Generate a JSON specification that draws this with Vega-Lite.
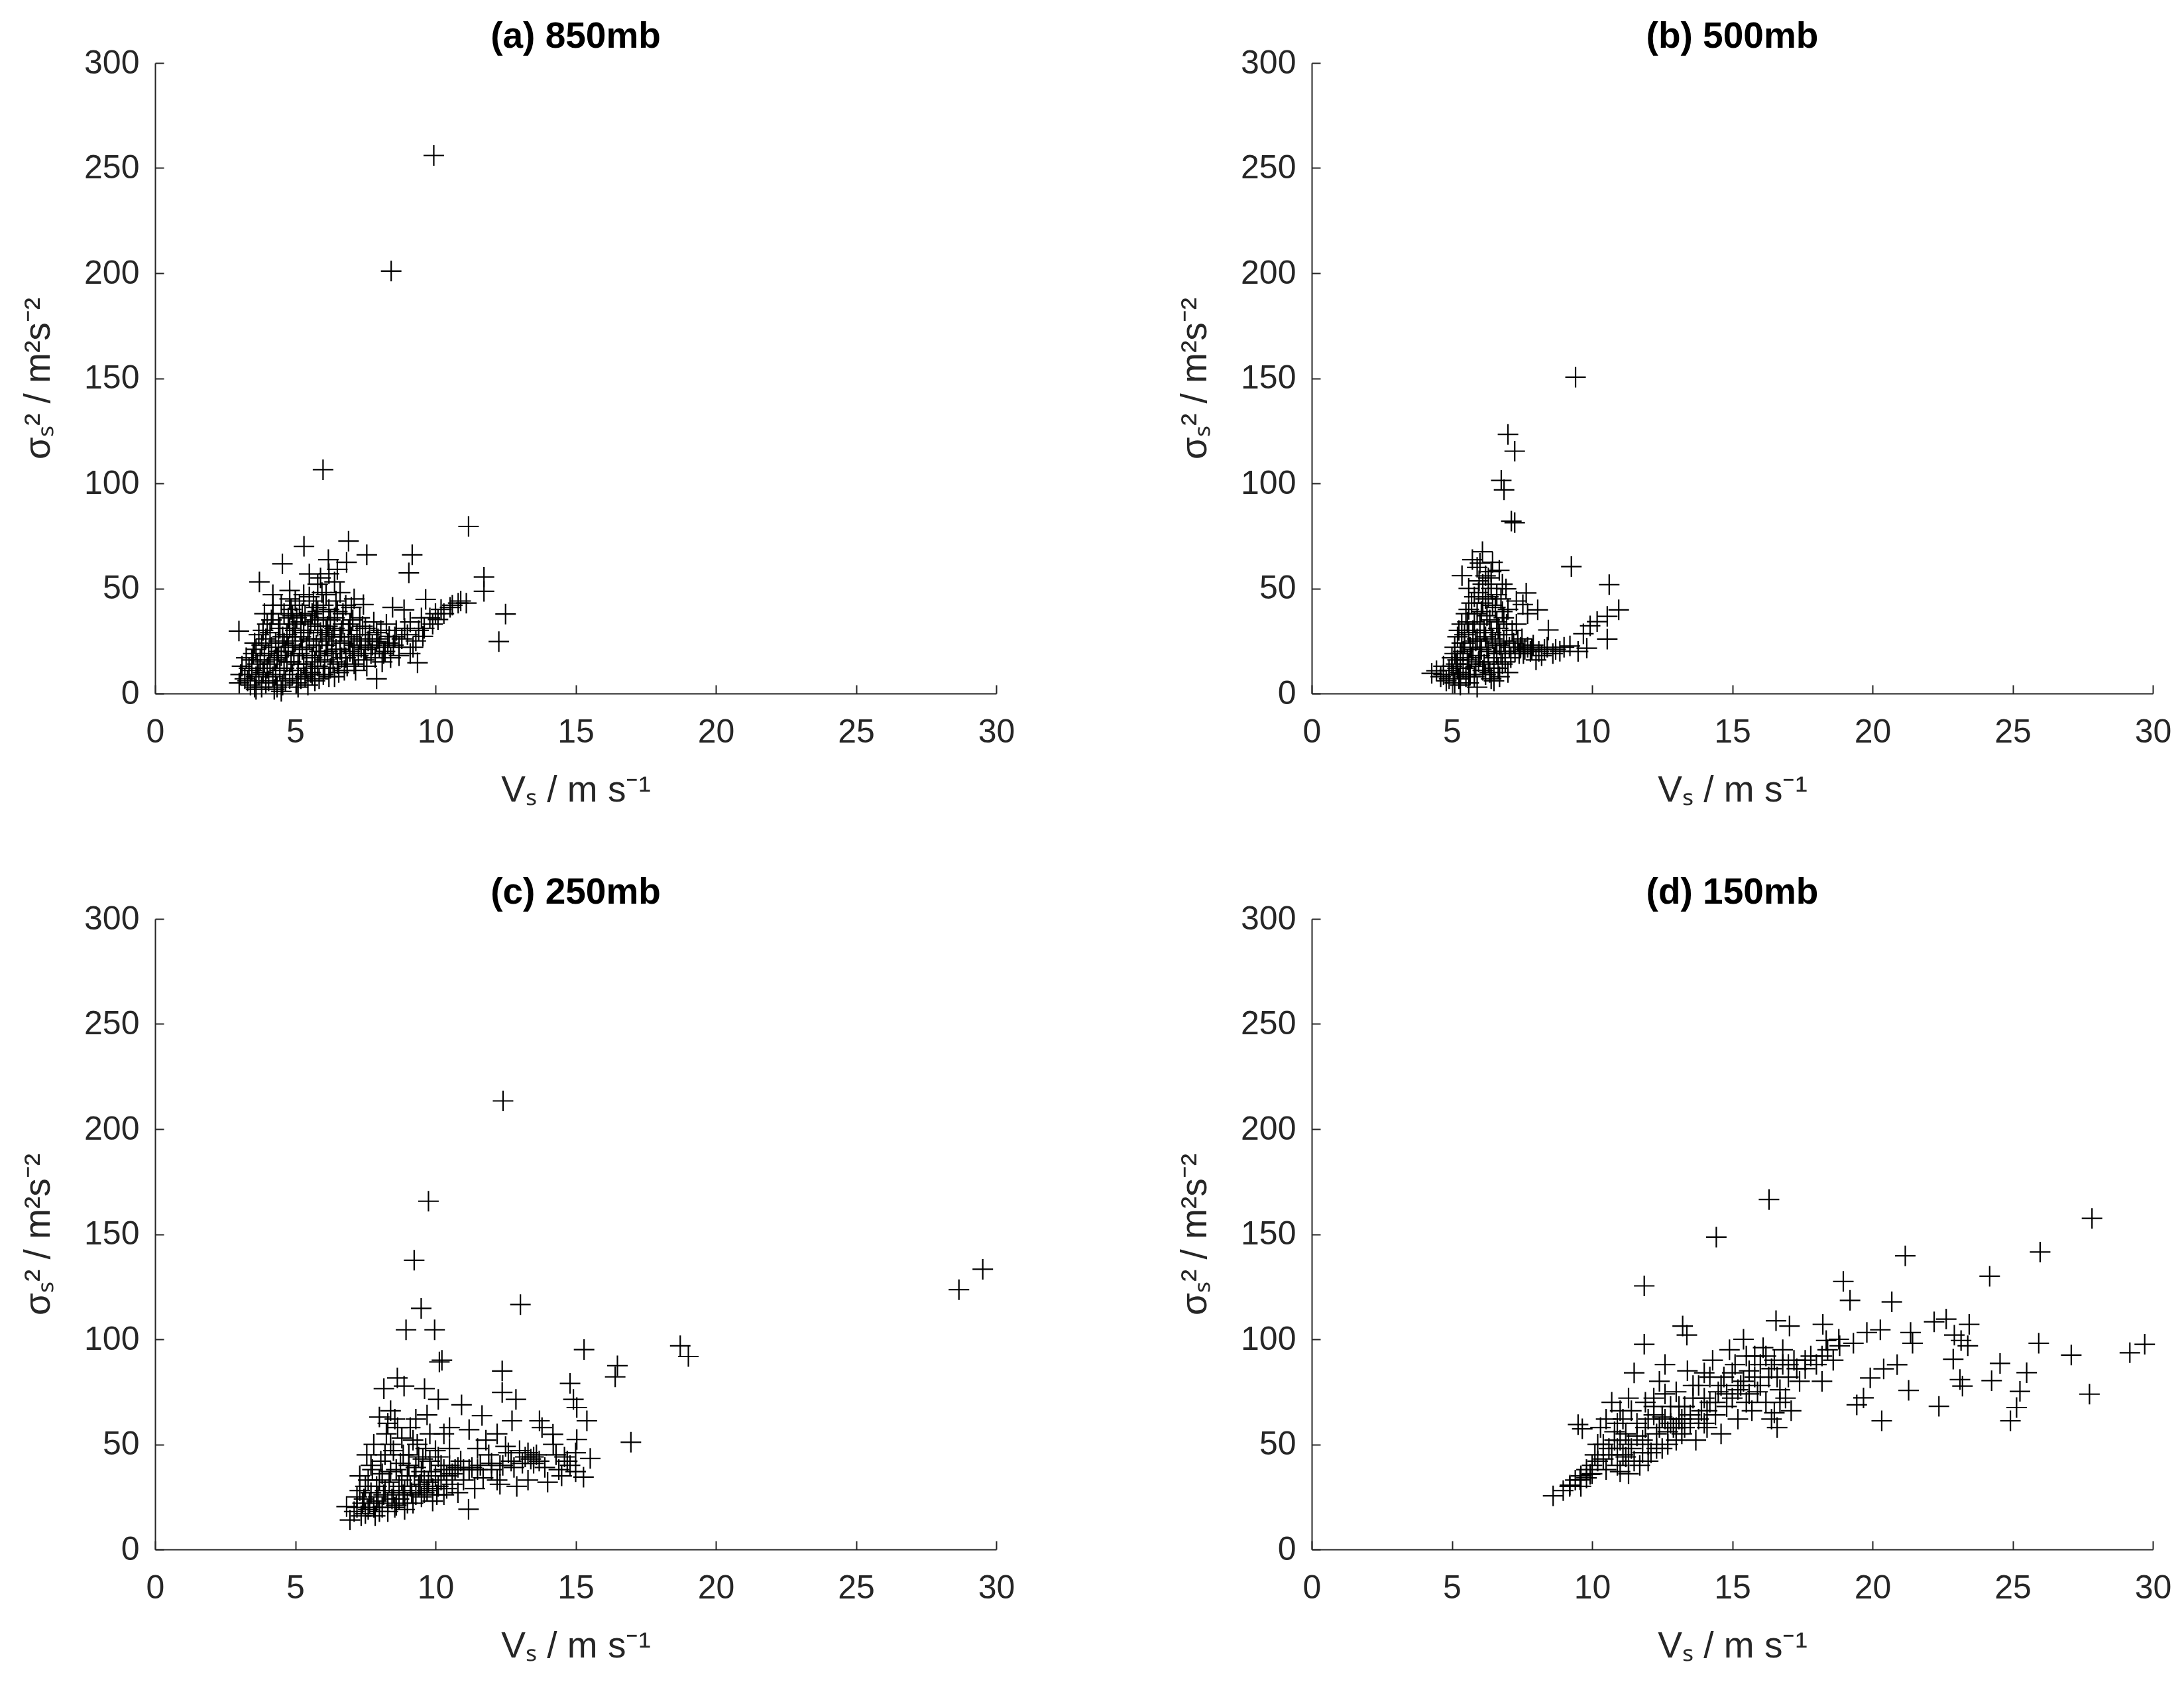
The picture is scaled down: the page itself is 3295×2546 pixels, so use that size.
{
"$schema": "https://vega.github.io/schema/vega-lite/v6.json",
"background": "white",
"padding": {"left": 30, "top": 28, "right": 5, "bottom": 5},
"bounds": "flush",
"spacing": {"row": 340, "column": 476},
"columns": 2,
"config": {
  "view": {"stroke": null},
  "axis": {"grid": false, "domainColor": "#262626", "domainWidth": 2, "tickColor": "#262626", "tickWidth": 2, "tickSize": -13,
    "labelFont": "Liberation Sans", "labelFontSize": 50, "labelColor": "#262626", "labelOverlap": false, "labelFlush": false,
    "titleFont": "Liberation Sans", "titleFontSize": 55, "titleFontWeight": "normal", "titleColor": "#262626"},
  "axisX": {"labelPadding": 46, "titleX": 634.5, "titleY": 162, "titleBaseline": "alphabetic", "titleAlign": "center"},
  "axisY": {"labelPadding": 37, "titleX": -160, "titleY": 475.5, "titleBaseline": "alphabetic", "titleAlign": "center", "titleAngle": -90},
  "title": {"font": "Liberation Sans", "fontSize": 55, "fontWeight": "bold", "color": "black", "frame": "group", "anchor": "middle", "baseline": "alphabetic", "offset": -14}
},
"datasets": {
"a": [
{"v":9.94,"s":256},{"v":8.42,"s":201},{"v":5.99,"s":106.5},{"v":11.18,"s":79.5},{"v":11.73,"s":55.4},{"v":11.73,"s":48.6},{"v":12.5,"s":37.8},{"v":12.26,"s":24.7},{"v":9.17,"s":66},{"v":9.05,"s":57.4},{"v":7.55,"s":66},{"v":6.9,"s":72.5},{"v":6.83,"s":62.4},{"v":5.31,"s":70},{"v":4.54,"s":61.7},{"v":3.72,"s":53.1},{"v":6.18,"s":63.7},{"v":5.5,"s":56.9},{"v":6.4,"s":53.1},{"v":2.99,"s":29.7},{"v":10.81,"s":43},{"v":10.52,"s":41},{"v":10.09,"s":35.2},{"v":9.65,"s":44.8},{"v":9.55,"s":27.2},{"v":9.36,"s":14.6},{"v":8.88,"s":39.8},{"v":8.47,"s":41},{"v":8.35,"s":27.2},{"v":7.9,"s":7},{"v":7.9,"s":24.7},{"v":7.43,"s":42.3},{"v":6.5,"s":59},{"v":6.2,"s":57},{"v":5.8,"s":52},{"v":4.2,"s":47},{"v":4.8,"s":49},{"v":7.1,"s":45},{"v":9.4,"s":30},{"v":9.2,"s":22},{"v":8.7,"s":18},{"v":8.2,"s":20},{"v":10.3,"s":38},{"v":9.9,"s":33},
{"v":3.0,"s":5},{"v":3.05,"s":9},{"v":3.1,"s":13},{"v":3.2,"s":7},{"v":3.25,"s":17},
{"v":3.4,"s":4},{"v":3.45,"s":11},{"v":3.5,"s":19},{"v":3.55,"s":24},{"v":3.6,"s":8},{"v":3.65,"s":14},{"v":3.7,"s":28},
{"v":3.8,"s":3},{"v":3.85,"s":10},{"v":3.9,"s":18},{"v":3.95,"s":26},{"v":4.0,"s":33},{"v":4.05,"s":6},{"v":4.1,"s":14},{"v":4.15,"s":22},{"v":4.2,"s":38},{"v":4.25,"s":2},
{"v":4.3,"s":9},{"v":4.35,"s":17},{"v":4.4,"s":25},{"v":4.45,"s":31},{"v":4.5,"s":42},{"v":4.55,"s":4},{"v":4.6,"s":12},{"v":4.65,"s":20},{"v":4.7,"s":28},{"v":4.75,"s":36},{"v":4.8,"s":7},
{"v":4.85,"s":15},{"v":4.9,"s":23},{"v":4.95,"s":33},{"v":5.0,"s":44},{"v":5.05,"s":5},{"v":5.1,"s":11},{"v":5.15,"s":19},{"v":5.2,"s":27},{"v":5.25,"s":38},{"v":5.3,"s":14},{"v":5.35,"s":8},
{"v":5.4,"s":22},{"v":5.45,"s":30},{"v":5.5,"s":46},{"v":5.55,"s":10},{"v":5.6,"s":17},{"v":5.65,"s":25},{"v":5.7,"s":35},{"v":5.75,"s":41},{"v":5.8,"s":13},{"v":5.85,"s":20},{"v":5.9,"s":29},
{"v":5.95,"s":48},{"v":6.0,"s":9},{"v":6.05,"s":16},{"v":6.1,"s":23},{"v":6.15,"s":32},{"v":6.2,"s":40},{"v":6.25,"s":12},{"v":6.3,"s":19},{"v":6.35,"s":27},{"v":6.4,"s":36},{"v":6.45,"s":44},
{"v":6.5,"s":14},{"v":6.6,"s":21},{"v":6.65,"s":30},{"v":6.7,"s":38},{"v":6.75,"s":11},{"v":6.8,"s":17},{"v":6.9,"s":25},{"v":6.95,"s":33},{"v":7.0,"s":41},{"v":7.05,"s":19},{"v":7.1,"s":14},
{"v":7.2,"s":28},{"v":7.3,"s":36},{"v":7.35,"s":22},{"v":7.45,"s":16},{"v":7.5,"s":31},{"v":7.6,"s":25},{"v":7.7,"s":19},{"v":7.8,"s":34},{"v":7.9,"s":29},{"v":8.0,"s":22},{"v":8.1,"s":15},
{"v":8.3,"s":24},{"v":8.5,"s":23},{"v":8.6,"s":30},{"v":8.8,"s":26},{"v":9.0,"s":28},{"v":9.1,"s":19},{"v":9.3,"s":25},{"v":9.6,"s":31},{"v":9.8,"s":36},{"v":10.0,"s":38},{"v":10.2,"s":40},{"v":10.6,"s":42},{"v":10.9,"s":44},{"v":11.1,"s":43},
{"v":4.6,"s":24},{"v":5.0,"s":30},{"v":5.2,"s":34},{"v":5.6,"s":38},{"v":6.0,"s":36},{"v":5.4,"s":18},{"v":4.9,"s":27},{"v":6.2,"s":28},{"v":5.8,"s":32},{"v":4.4,"s":20},{"v":3.9,"s":15},{"v":5.1,"s":3},{"v":5.7,"s":6},{"v":6.4,"s":8},{"v":4.5,"s":1},{"v":3.6,"s":2},
{"v":3.3,"s":6},{"v":3.35,"s":12},{"v":3.45,"s":16},{"v":3.55,"s":3},{"v":3.6,"s":21},{"v":3.7,"s":9},{"v":3.75,"s":16},{"v":3.8,"s":23},{"v":3.85,"s":30},{"v":3.95,"s":5},{"v":4.0,"s":12},{"v":4.05,"s":19},{"v":4.1,"s":29},{"v":4.15,"s":35},{"v":4.2,"s":8},{"v":4.25,"s":16},{"v":4.3,"s":24},{"v":4.35,"s":3},{"v":4.4,"s":33},{"v":4.45,"s":11},{"v":4.5,"s":18},{"v":4.55,"s":27},{"v":4.6,"s":38},{"v":4.65,"s":6},{"v":4.7,"s":15},{"v":4.75,"s":22},{"v":4.8,"s":31},{"v":4.85,"s":40},{"v":4.9,"s":9},{"v":4.95,"s":18},{"v":5.0,"s":25},{"v":5.05,"s":36},{"v":5.1,"s":14},{"v":5.15,"s":42},{"v":5.2,"s":7},{"v":5.25,"s":21},{"v":5.3,"s":29},{"v":5.35,"s":37},{"v":5.4,"s":12},{"v":5.45,"s":4},{"v":5.5,"s":26},{"v":5.55,"s":33},{"v":5.6,"s":9},{"v":5.65,"s":44},{"v":5.7,"s":15},{"v":5.75,"s":23},{"v":5.8,"s":39},{"v":5.85,"s":7},{"v":5.9,"s":18},{"v":5.95,"s":26},{"v":6.0,"s":42},{"v":6.05,"s":12},{"v":6.1,"s":30},{"v":6.15,"s":20},{"v":6.2,"s":8},{"v":6.25,"s":35},{"v":6.3,"s":25},{"v":6.35,"s":15},{"v":6.4,"s":31},{"v":6.45,"s":21},{"v":6.5,"s":39},{"v":6.55,"s":10},{"v":6.6,"s":27},{"v":6.65,"s":17},{"v":6.7,"s":33},{"v":6.75,"s":24},{"v":6.8,"s":42},{"v":6.85,"s":13},{"v":6.9,"s":30},{"v":6.95,"s":20},{"v":7.0,"s":27},{"v":7.05,"s":35},{"v":7.1,"s":23},{"v":7.15,"s":11},{"v":7.25,"s":18},{"v":7.3,"s":26},{"v":7.4,"s":32},{"v":7.5,"s":21},{"v":7.55,"s":13},{"v":7.65,"s":28},{"v":7.75,"s":23},{"v":7.85,"s":17},{"v":7.95,"s":26},{"v":8.05,"s":30},{"v":8.15,"s":19},{"v":8.25,"s":33},{"v":8.4,"s":17},{"v":8.55,"s":27},{"v":8.7,"s":22},{"v":8.9,"s":31},{"v":9.1,"s":34},{"v":9.5,"s":36},{"v":4.2,"s":42},{"v":4.8,"s":45},{"v":5.3,"s":47},{"v":6.6,"s":48},{"v":3.9,"s":38},{"v":5.9,"s":55},{"v":4.9,"s":37},{"v":6.1,"s":47}
],
"b": [
{"v":9.41,"s":150.5},{"v":7.0,"s":123.3},{"v":7.24,"s":115.3},{"v":6.76,"s":101.4},{"v":6.86,"s":96.9},{"v":7.12,"s":82},{"v":7.24,"s":81.3},{"v":9.26,"s":60.4},{"v":10.61,"s":51.8},{"v":10.95,"s":39.8},{"v":10.54,"s":36.7},{"v":10.18,"s":34.2},{"v":9.93,"s":32.2},{"v":9.69,"s":28.4},{"v":10.54,"s":25.9},{"v":9.81,"s":21.6},{"v":9.21,"s":22.6},{"v":8.85,"s":20.1},{"v":8.44,"s":30.2},{"v":8.06,"s":39.8},{"v":7.65,"s":47.8},{"v":7.53,"s":42.3},{"v":5.36,"s":56.1},{"v":6.09,"s":67.5},{"v":5.73,"s":63.7},{"v":6.45,"s":62.4},{"v":6.69,"s":58.6},{"v":6.93,"s":49.8},{"v":5.97,"s":53.6},{"v":4.28,"s":9.6},{"v":4.45,"s":10.8},{"v":9.0,"s":22},{"v":8.2,"s":18},{"v":9.5,"s":20},{"v":7.3,"s":44},{"v":6.3,"s":55},{"v":5.9,"s":60},
{"v":4.6,"s":8},{"v":4.7,"s":13},{"v":4.8,"s":6},{"v":4.9,"s":11},{"v":5.0,"s":17},{"v":5.05,"s":9},{"v":5.1,"s":22},{"v":5.15,"s":14},{"v":5.2,"s":27},{"v":5.25,"s":7},{"v":5.3,"s":19},{"v":5.35,"s":33},{"v":5.4,"s":12},{"v":5.45,"s":24},{"v":5.5,"s":38},{"v":5.55,"s":16},{"v":5.6,"s":29},{"v":5.65,"s":9},{"v":5.7,"s":43},{"v":5.75,"s":21},{"v":5.8,"s":34},{"v":5.85,"s":13},{"v":5.9,"s":26},{"v":5.95,"s":48},{"v":6.0,"s":18},{"v":6.05,"s":39},{"v":6.1,"s":11},{"v":6.15,"s":30},{"v":6.2,"s":45},{"v":6.25,"s":22},{"v":6.3,"s":15},{"v":6.35,"s":35},{"v":6.4,"s":50},{"v":6.45,"s":26},{"v":6.5,"s":12},{"v":6.55,"s":41},{"v":6.6,"s":19},{"v":6.65,"s":31},{"v":6.7,"s":23},{"v":6.75,"s":45},{"v":6.8,"s":14},{"v":6.85,"s":36},{"v":6.9,"s":20},{"v":6.95,"s":28},{"v":7.0,"s":40},{"v":7.1,"s":17},{"v":7.2,"s":24},{"v":7.3,"s":33},{"v":7.4,"s":19},{"v":7.5,"s":26},{"v":7.6,"s":21},{"v":7.7,"s":38},{"v":7.8,"s":20},{"v":7.9,"s":23},{"v":8.0,"s":16},{"v":8.3,"s":21},{"v":8.6,"s":19},{"v":6.1,"s":52},{"v":6.3,"s":46},{"v":5.8,"s":46},{"v":6.6,"s":47},{"v":6.0,"s":25},{"v":6.2,"s":9},{"v":5.6,"s":5},{"v":6.4,"s":7},{"v":7.0,"s":10},{"v":6.7,"s":8},{"v":5.3,"s":4},{"v":5.9,"s":3},
{"v":4.9,"s":7},{"v":5.0,"s":13},{"v":5.1,"s":5},{"v":5.2,"s":16},{"v":5.25,"s":30},{"v":5.3,"s":10},{"v":5.4,"s":20},{"v":5.45,"s":28},{"v":5.5,"s":8},{"v":5.55,"s":34},{"v":5.6,"s":14},{"v":5.65,"s":22},{"v":5.7,"s":17},{"v":5.75,"s":30},{"v":5.8,"s":8},{"v":5.85,"s":25},{"v":5.9,"s":38},{"v":5.95,"s":15},{"v":6.0,"s":33},{"v":6.05,"s":21},{"v":6.1,"s":43},{"v":6.15,"s":14},{"v":6.2,"s":27},{"v":6.25,"s":37},{"v":6.3,"s":20},{"v":6.35,"s":10},{"v":6.4,"s":29},{"v":6.45,"s":42},{"v":6.5,"s":17},{"v":6.55,"s":24},{"v":6.6,"s":34},{"v":6.65,"s":12},{"v":6.7,"s":28},{"v":6.75,"s":19},{"v":6.8,"s":39},{"v":6.85,"s":25},{"v":6.9,"s":15},{"v":6.95,"s":33},{"v":7.05,"s":22},{"v":7.15,"s":30},{"v":7.25,"s":20},{"v":7.35,"s":25},{"v":7.45,"s":22},{"v":7.55,"s":19},{"v":7.7,"s":22},{"v":7.85,"s":21},{"v":8.1,"s":20},{"v":8.4,"s":22},{"v":8.7,"s":21},{"v":6.2,"s":56},{"v":6.0,"s":62},{"v":6.4,"s":58},{"v":5.6,"s":50},{"v":6.8,"s":52},{"v":5.2,"s":12},{"v":4.7,"s":9},{"v":5.1,"s":19},{"v":5.35,"s":24},{"v":5.6,"s":40},{"v":6.5,"s":6}
],
"c": [
{"v":12.41,"s":213.4},{"v":9.75,"s":165.7},{"v":9.24,"s":137.6},{"v":9.49,"s":114.7},{"v":13.03,"s":116.5},{"v":8.95,"s":104.5},{"v":9.97,"s":104.5},{"v":10.23,"s":90},{"v":10.14,"s":89.2},{"v":15.3,"s":95.1},{"v":16.49,"s":87.4},{"v":16.41,"s":82.1},{"v":18.73,"s":96.9},{"v":19.02,"s":91.8},{"v":28.67,"s":123.6},{"v":29.52,"s":133.3},{"v":16.97,"s":51},{"v":12.38,"s":84.9},{"v":12.38,"s":74.7},{"v":12.87,"s":71.4},{"v":14.8,"s":79},{"v":14.92,"s":71.4},{"v":15.04,"s":67.5},{"v":15.4,"s":61.2},{"v":15.04,"s":52.3},{"v":15.52,"s":43.3},{"v":15.28,"s":34.4},{"v":8.16,"s":76.5},{"v":8.64,"s":81.6},{"v":8.88,"s":77.7},{"v":9.61,"s":76.5},{"v":10.1,"s":71.4},{"v":10.93,"s":68.8},{"v":11.66,"s":63.7},{"v":12.73,"s":61.2},{"v":13.71,"s":61.2},{"v":14.19,"s":54.8},{"v":11.18,"s":19.1},{"v":6.83,"s":20.4},{"v":6.95,"s":14},
{"v":7.1,"s":18},{"v":7.2,"s":25},{"v":7.3,"s":35},{"v":7.35,"s":16},{"v":7.4,"s":22},{"v":7.5,"s":30},{"v":7.55,"s":45},{"v":7.6,"s":19},{"v":7.7,"s":27},{"v":7.75,"s":38},{"v":7.8,"s":50},{"v":7.85,"s":16},{"v":7.9,"s":23},{"v":8.0,"s":33},{"v":8.05,"s":42},{"v":8.1,"s":20},{"v":8.2,"s":28},{"v":8.25,"s":55},{"v":8.3,"s":18},{"v":8.4,"s":37},{"v":8.45,"s":24},{"v":8.5,"s":47},{"v":8.55,"s":62},{"v":8.6,"s":21},{"v":8.7,"s":30},{"v":8.75,"s":41},{"v":8.8,"s":53},{"v":8.85,"s":26},{"v":8.9,"s":19},{"v":9.0,"s":35},{"v":9.05,"s":45},{"v":9.1,"s":58},{"v":9.15,"s":27},{"v":9.2,"s":22},{"v":9.3,"s":39},{"v":9.35,"s":50},{"v":9.4,"s":30},{"v":9.5,"s":25},{"v":9.55,"s":43},{"v":9.6,"s":33},{"v":9.7,"s":28},{"v":9.8,"s":55},{"v":9.85,"s":37},{"v":9.9,"s":23},{"v":10.0,"s":47},{"v":10.1,"s":30},{"v":10.2,"s":40},{"v":10.3,"s":26},{"v":10.4,"s":35},{"v":10.5,"s":58},{"v":10.6,"s":31},{"v":10.7,"s":38},{"v":10.8,"s":27},{"v":10.9,"s":42},{"v":11.0,"s":33},{"v":11.2,"s":38},{"v":11.4,"s":29},{"v":11.6,"s":40},{"v":11.8,"s":52},{"v":12.0,"s":38},{"v":12.2,"s":33},{"v":12.4,"s":40},{"v":12.5,"s":49},{"v":12.7,"s":42},{"v":12.9,"s":30},{"v":13.0,"s":47},{"v":13.2,"s":44},{"v":13.4,"s":43},{"v":13.5,"s":41},{"v":13.6,"s":45},{"v":13.8,"s":58},{"v":14.0,"s":32},{"v":14.2,"s":50},{"v":14.4,"s":38},{"v":14.6,"s":44},{"v":14.8,"s":40},{"v":15.0,"s":37},{"v":13.3,"s":33},{"v":12.3,"s":31},{"v":11.9,"s":45},{"v":10.5,"s":48},{"v":9.7,"s":64},{"v":8.4,"s":66},{"v":11.2,"s":57},
{"v":7.2,"s":20},{"v":7.3,"s":28},{"v":7.45,"s":24},{"v":7.5,"s":17},{"v":7.6,"s":33},{"v":7.65,"s":22},{"v":7.7,"s":40},{"v":7.8,"s":20},{"v":7.9,"s":30},{"v":7.95,"s":25},{"v":8.0,"s":18},{"v":8.1,"s":36},{"v":8.15,"s":26},{"v":8.2,"s":45},{"v":8.3,"s":22},{"v":8.35,"s":32},{"v":8.4,"s":50},{"v":8.5,"s":27},{"v":8.55,"s":20},{"v":8.6,"s":38},{"v":8.65,"s":58},{"v":8.7,"s":24},{"v":8.8,"s":33},{"v":8.85,"s":45},{"v":8.9,"s":28},{"v":9.0,"s":22},{"v":9.05,"s":40},{"v":9.1,"s":30},{"v":9.2,"s":52},{"v":9.25,"s":35},{"v":9.3,"s":26},{"v":9.4,"s":44},{"v":9.45,"s":31},{"v":9.5,"s":37},{"v":9.6,"s":27},{"v":9.65,"s":48},{"v":9.75,"s":32},{"v":9.8,"s":42},{"v":9.9,"s":29},{"v":10.0,"s":35},{"v":10.05,"s":26},{"v":10.1,"s":44},{"v":10.2,"s":33},{"v":10.3,"s":38},{"v":10.4,"s":29},{"v":10.5,"s":40},{"v":10.6,"s":36},{"v":10.8,"s":39},{"v":11.0,"s":38},{"v":11.3,"s":39},{"v":11.5,"s":38},{"v":11.7,"s":34},{"v":12.0,"s":41},{"v":12.3,"s":40},{"v":12.6,"s":46},{"v":12.8,"s":39},{"v":13.1,"s":41},{"v":13.3,"s":46},{"v":13.5,"s":44},{"v":13.7,"s":42},{"v":13.9,"s":39},{"v":14.3,"s":45},{"v":14.5,"s":35},{"v":14.7,"s":42},{"v":15.0,"s":46},{"v":8.3,"s":60},{"v":8.0,"s":63},{"v":9.3,"s":62},{"v":10.3,"s":55},{"v":11.5,"s":48},{"v":12.2,"s":55}
],
"d": [
{"v":16.31,"s":166.5},{"v":14.43,"s":148.6},{"v":11.86,"s":125.4},{"v":27.83,"s":157.5},{"v":25.98,"s":141.5},{"v":21.17,"s":139.7},{"v":24.18,"s":130},{"v":18.96,"s":127.5},{"v":19.2,"s":118.5},{"v":20.69,"s":117.8},{"v":29.71,"s":97.6},{"v":29.18,"s":93.6},{"v":27.09,"s":92.5},{"v":25.93,"s":98.1},{"v":27.74,"s":73.9},{"v":24.55,"s":88.5},{"v":24.25,"s":80.3},{"v":25.5,"s":84.1},{"v":25.26,"s":75.2},{"v":25.14,"s":67.5},{"v":24.92,"s":61.2},{"v":22.37,"s":68.1},{"v":23.12,"s":80.8},{"v":23.21,"s":77.7},{"v":22.88,"s":90.5},{"v":22.2,"s":108.3},{"v":22.63,"s":109.6},{"v":23.45,"s":107.1},{"v":23.16,"s":99.4},{"v":22.92,"s":102},{"v":23.4,"s":96.9},{"v":21.29,"s":75.7},{"v":21.36,"s":103.2},{"v":21.43,"s":98.1},{"v":20.33,"s":61.2},{"v":20.88,"s":87.9},{"v":20.4,"s":85.9},{"v":19.92,"s":81.6},{"v":19.8,"s":103.2},{"v":20.28,"s":104.5},{"v":19.68,"s":72.1},{"v":19.44,"s":68.8},{"v":18.23,"s":107.1},{"v":18.35,"s":99.4},{"v":18.83,"s":96.9},{"v":19.32,"s":98.1},{"v":16.56,"s":108.8},{"v":17.04,"s":106.3},{"v":13.23,"s":106.3},{"v":13.38,"s":102},{"v":11.86,"s":97.6},{"v":9.5,"s":59.4},{"v":9.65,"s":57.4},{"v":8.61,"s":25.5},{"v":8.97,"s":28},{"v":9.21,"s":30.6},{"v":9.57,"s":33.1},{"v":9.93,"s":35.7},
{"v":9.2,"s":30},{"v":9.4,"s":33},{"v":9.6,"s":35},{"v":9.8,"s":38},{"v":10.0,"s":40},{"v":10.1,"s":45},{"v":10.2,"s":50},{"v":10.3,"s":58},{"v":10.4,"s":43},{"v":10.5,"s":62},{"v":10.6,"s":48},{"v":10.7,"s":70},{"v":10.8,"s":52},{"v":10.9,"s":40},{"v":11.0,"s":66},{"v":11.1,"s":45},{"v":11.2,"s":55},{"v":11.3,"s":72},{"v":11.4,"s":48},{"v":11.5,"s":84},{"v":11.6,"s":60},{"v":11.7,"s":40},{"v":11.8,"s":52},{"v":11.9,"s":70},{"v":12.0,"s":62},{"v":12.1,"s":46},{"v":12.2,"s":72},{"v":12.3,"s":55},{"v":12.4,"s":80},{"v":12.5,"s":63},{"v":12.6,"s":88},{"v":12.7,"s":50},{"v":12.8,"s":68},{"v":12.9,"s":58},{"v":13.0,"s":75},{"v":13.1,"s":62},{"v":13.2,"s":55},{"v":13.3,"s":68},{"v":13.4,"s":85},{"v":13.5,"s":60},{"v":13.6,"s":72},{"v":13.7,"s":52},{"v":13.8,"s":78},{"v":13.9,"s":66},{"v":14.0,"s":84},{"v":14.1,"s":58},{"v":14.2,"s":70},{"v":14.3,"s":90},{"v":14.4,"s":64},{"v":14.5,"s":75},{"v":14.6,"s":55},{"v":14.7,"s":82},{"v":14.8,"s":68},{"v":14.9,"s":95},{"v":15.0,"s":72},{"v":15.1,"s":88},{"v":15.2,"s":62},{"v":15.3,"s":78},{"v":15.4,"s":100},{"v":15.5,"s":70},{"v":15.6,"s":85},{"v":15.7,"s":66},{"v":15.8,"s":92},{"v":15.9,"s":75},{"v":16.0,"s":88},{"v":16.1,"s":96},{"v":16.2,"s":70},{"v":16.3,"s":82},{"v":16.4,"s":62},{"v":16.5,"s":90},{"v":16.6,"s":58},{"v":16.7,"s":76},{"v":16.8,"s":95},{"v":16.9,"s":72},{"v":17.0,"s":88},{"v":17.1,"s":66},{"v":17.2,"s":90},{"v":17.4,"s":80},{"v":17.6,"s":86},{"v":17.8,"s":92},{"v":18.0,"s":88},{"v":18.2,"s":80},{"v":18.4,"s":95},{"v":18.6,"s":90},{"v":16.5,"s":65},{"v":16.7,"s":70},{"v":11.0,"s":37},{"v":11.3,"s":42},{"v":10.9,"s":60},{"v":12.0,"s":42},{"v":12.5,"s":48},{"v":13.0,"s":52},
{"v":9.6,"s":30},{"v":9.8,"s":34},{"v":10.0,"s":36},{"v":10.2,"s":42},{"v":10.4,"s":50},{"v":10.5,"s":38},{"v":10.7,"s":45},{"v":10.8,"s":56},{"v":10.9,"s":48},{"v":11.0,"s":52},{"v":11.1,"s":62},{"v":11.2,"s":44},{"v":11.3,"s":50},{"v":11.4,"s":66},{"v":11.5,"s":42},{"v":11.6,"s":54},{"v":11.8,"s":46},{"v":11.9,"s":58},{"v":12.0,"s":50},{"v":12.2,"s":64},{"v":12.3,"s":48},{"v":12.4,"s":58},{"v":12.6,"s":62},{"v":12.7,"s":56},{"v":12.8,"s":60},{"v":13.0,"s":58},{"v":13.1,"s":68},{"v":13.2,"s":62},{"v":13.3,"s":58},{"v":13.5,"s":64},{"v":13.6,"s":78},{"v":13.8,"s":62},{"v":14.0,"s":72},{"v":14.1,"s":66},{"v":14.2,"s":82},{"v":14.4,"s":70},{"v":14.6,"s":78},{"v":14.8,"s":74},{"v":15.0,"s":84},{"v":15.2,"s":76},{"v":15.4,"s":80},{"v":15.6,"s":74},{"v":15.8,"s":82},{"v":16.0,"s":78},{"v":16.2,"s":92},{"v":16.4,"s":86},{"v":16.6,"s":82},{"v":16.8,"s":88},{"v":17.0,"s":82},{"v":17.3,"s":86},{"v":17.6,"s":90},{"v":18.2,"s":92},{"v":18.8,"s":100},{"v":12.2,"s":68},{"v":11.3,"s":36},{"v":12.6,"s":74},{"v":14.0,"s":60},{"v":15.5,"s":92}
]
},
"concat": [
{"title": {"text": "(a) 850mb"}, "data": {"name": "a"}, "width": 1269, "height": 951,
 "mark": {"type": "point", "shape": "M-1,0L1,0M0,-1L0,1", "size": 960, "filled": false, "color": "black", "strokeWidth": 2.2, "opacity": 1},
 "encoding": {
  "x": {"field": "v", "type": "quantitative", "scale": {"domain": [0, 30], "nice": false, "zero": false}, "axis": {"title": "Vₛ / m s⁻¹", "values": [0,5,10,15,20,25,30]}},
  "y": {"field": "s", "type": "quantitative", "scale": {"domain": [0, 300], "nice": false}, "axis": {"title": "σₛ² / m²s⁻²", "values": [0,50,100,150,200,250,300]}}
 }},
{"title": {"text": "(b) 500mb"}, "data": {"name": "b"}, "width": 1269, "height": 951,
 "mark": {"type": "point", "shape": "M-1,0L1,0M0,-1L0,1", "size": 960, "filled": false, "color": "black", "strokeWidth": 2.2, "opacity": 1},
 "encoding": {
  "x": {"field": "v", "type": "quantitative", "scale": {"domain": [0, 30], "nice": false, "zero": false}, "axis": {"title": "Vₛ / m s⁻¹", "values": [0,5,10,15,20,25,30]}},
  "y": {"field": "s", "type": "quantitative", "scale": {"domain": [0, 300], "nice": false}, "axis": {"title": "σₛ² / m²s⁻²", "values": [0,50,100,150,200,250,300]}}
 }},
{"title": {"text": "(c) 250mb"}, "data": {"name": "c"}, "width": 1269, "height": 951,
 "mark": {"type": "point", "shape": "M-1,0L1,0M0,-1L0,1", "size": 960, "filled": false, "color": "black", "strokeWidth": 2.2, "opacity": 1},
 "encoding": {
  "x": {"field": "v", "type": "quantitative", "scale": {"domain": [0, 30], "nice": false, "zero": false}, "axis": {"title": "Vₛ / m s⁻¹", "values": [0,5,10,15,20,25,30]}},
  "y": {"field": "s", "type": "quantitative", "scale": {"domain": [0, 300], "nice": false}, "axis": {"title": "σₛ² / m²s⁻²", "values": [0,50,100,150,200,250,300]}}
 }},
{"title": {"text": "(d) 150mb"}, "data": {"name": "d"}, "width": 1269, "height": 951,
 "mark": {"type": "point", "shape": "M-1,0L1,0M0,-1L0,1", "size": 960, "filled": false, "color": "black", "strokeWidth": 2.2, "opacity": 1},
 "encoding": {
  "x": {"field": "v", "type": "quantitative", "scale": {"domain": [0, 30], "nice": false, "zero": false}, "axis": {"title": "Vₛ / m s⁻¹", "values": [0,5,10,15,20,25,30]}},
  "y": {"field": "s", "type": "quantitative", "scale": {"domain": [0, 300], "nice": false}, "axis": {"title": "σₛ² / m²s⁻²", "values": [0,50,100,150,200,250,300]}}
 }}
]
}
